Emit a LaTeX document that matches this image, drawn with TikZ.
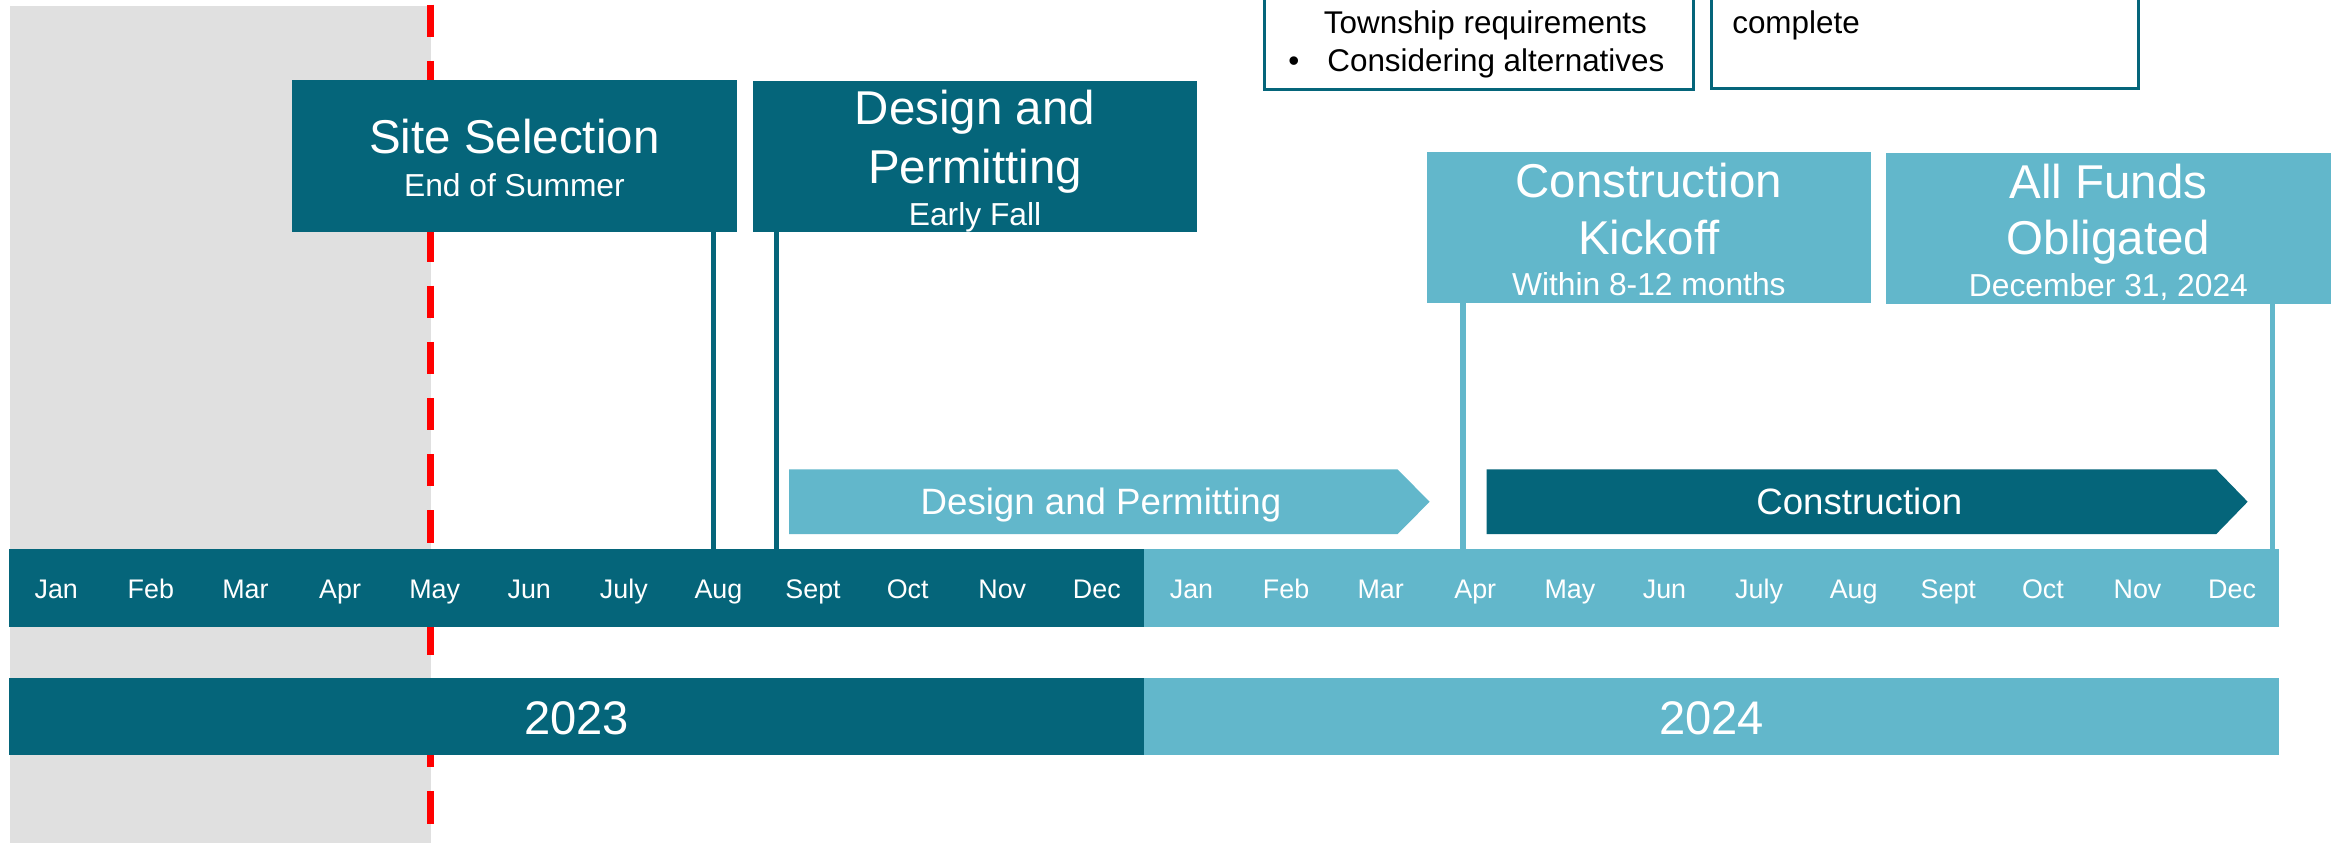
\documentclass[tikz,border=0pt]{standalone}
\usepackage{fontspec}
\setmainfont{Liberation Sans}
\usetikzlibrary{calc}
\definecolor{tealdark}{HTML}{05657A}
\definecolor{teallight}{HTML}{62B7CB}
\definecolor{graybg}{HTML}{E0E0E0}
\begin{document}
\begin{tikzpicture}[x=0.015cm,y=-0.015cm,
  boxd/.style={fill=tealdark, inner sep=0pt, outer sep=0pt},
  boxl/.style={fill=teallight, inner sep=0pt, outer sep=0pt},
  notebox/.style={draw=tealdark, line width=0.9pt, fill=white, inner sep=0pt, outer sep=0pt},
  bar/.style={inner sep=0pt, outer sep=0pt, minimum height=0.7815cm},
  ttl/.style={anchor=base, text=white, inner sep=0pt, font=\fontsize{13.6}{16}\selectfont},
  sub/.style={anchor=base, text=white, inner sep=0pt, font=\fontsize{9.1}{11}\selectfont},
  mon/.style={anchor=base, text=white, inner sep=0pt, font=\fontsize{7.7}{9}\selectfont},
  yr/.style={anchor=base, text=white, inner sep=0pt, font=\fontsize{13.5}{16}\selectfont},
  arrtxt/.style={anchor=base, text=white, inner sep=0pt, font=\fontsize{10.5}{12}\selectfont},
  notetxt/.style={anchor=base west, text=black, inner sep=0pt, font=\fontsize{9}{11}\selectfont},
  conndark/.style={draw=tealdark, line width=1.5pt},
  connlight/.style={draw=teallight, line width=1.6pt}]
\useasboundingbox (0,0) rectangle (1568,566);
\fill[white] (0,0) rectangle (1568,566);
% past period shading and today line
\fill[graybg] (6.8,4) rectangle (289,566);
\draw[red, line width=2.2pt, dash pattern=on 9.2pt off 6.9pt] (289,3.1) -- (289,566);

% note boxes (top, cut off)
\node[notebox, minimum width=4.3125cm, minimum height=1.05cm] (note1) at (992.75,25) {};
\node[notebox, minimum width=4.296cm, minimum height=1.0425cm] (note2) at (1292,24.75) {};
\node[notetxt] (n1a) at (888.2,22.8) {Township requirements};
\node[anchor=base, inner sep=0pt, font=\fontsize{9}{11}\selectfont] (n1bul) at (868.5,48.1) {\textbullet};
\node[notetxt] (n1b) at (890.5,48.1) {Considering alternatives};
\node[notetxt] (n2a) at (1162.3,22.4) {complete};

% month bar
\node[bar, fill=tealdark, minimum width=11.43cm, anchor=north west] (mbar1) at (6,368.5) {};
\node[bar, fill=teallight, minimum width=11.4225cm, anchor=north west] (mbar2) at (768,368.5) {};
\foreach [count=\i from 0] \m in {Jan,Feb,Mar,Apr,May,Jun,July,Aug,Sept,Oct,Nov,Dec,Jan,Feb,Mar,Apr,May,Jun,July,Aug,Sept,Oct,Nov,Dec}
  \node[mon] (m\i) at ({6+63.5*(\i+0.5)},401.6) {\m};

% year bar
\node[bar, fill=tealdark, minimum width=11.43cm, minimum height=0.7845cm, anchor=north west] (ybar1) at (6,454.8) {};
\node[bar, fill=teallight, minimum width=11.4225cm, minimum height=0.7845cm, anchor=north west] (ybar2) at (768,454.8) {};
\node[yr] (y2023) at (387,493.3) {2023};
\node[yr] (y2024) at (1149,493.3) {2024};

% milestone boxes
\node[boxd, minimum width=4.479cm, minimum height=1.5225cm] (site) at (345.3,104.75) {};
\node[ttl] (siteT) at (345.3,103.3) {Site Selection};
\node[sub] (siteS) at (345.3,132) {End of Summer};

\node[boxd, minimum width=4.473cm, minimum height=1.5195cm] (dp) at (654.5,104.85) {};
\node[ttl] (dpT1) at (654.5,83.9) {Design and};
\node[ttl] (dpT2) at (654.5,123.5) {Permitting};
\node[sub] (dpS) at (654.5,151.5) {Early Fall};

\node[boxl, minimum width=4.4715cm, minimum height=1.521cm] (ck) at (1106.75,152.9) {};
\node[ttl] (ckT1) at (1106.75,132.4) {Construction};
\node[ttl] (ckT2) at (1106.75,170.5) {Kickoff};
\node[sub] (ckS) at (1106.75,198.4) {Within 8-12 months};

\node[boxl, minimum width=4.4775cm, minimum height=1.5165cm] (af) at (1415.25,153.45) {};
\node[ttl] (afT1) at (1415.25,133) {All Funds};
\node[ttl] (afT2) at (1415.25,171) {Obligated};
\node[sub] (afS) at (1415.25,199) {December 31, 2024};

% connectors
\coordinate (c1) at ($(site.south east)+(-15.8,0)$);
\coordinate (c2) at ($(dp.south west)+(16,0)$);
\coordinate (c3) at ($(ck.south west)+(24.3,0)$);
\coordinate (c4) at ($(af.south east)+(-39.2,0)$);
\draw[conndark] (c1) -- (c1 |- mbar1.north);
\draw[conndark] (c2) -- (c2 |- mbar1.north);
\draw[connlight] (c3) -- (c3 |- mbar2.north);
\draw[connlight] (c4) -- (c4 |- mbar2.north);

% phase arrows
\fill[teallight] (529.7,315) -- (938,315) -- (959.6,336.8) -- (938,358.6) -- (529.7,358.6) -- cycle;
\node[arrtxt] (dparr) at (739,345.6) {Design and Permitting};
\fill[tealdark] (997.8,315) -- (1487.5,315) -- (1508.7,336.8) -- (1487.5,358.6) -- (997.8,358.6) -- cycle;
\node[arrtxt] (carr) at (1248,345.6) {Construction};
\end{tikzpicture}
\end{document}
